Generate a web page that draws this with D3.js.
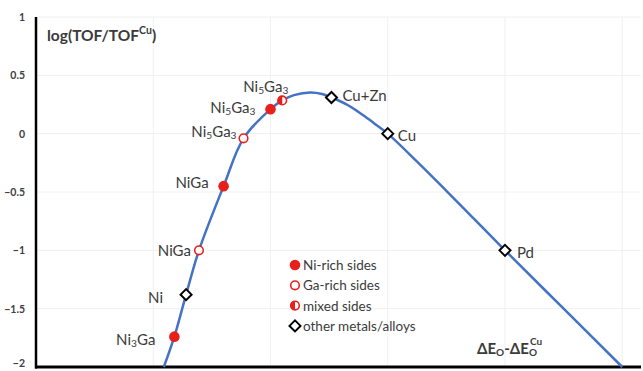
<!DOCTYPE html>
<html><head><meta charset="utf-8">
<script src="https://cdn.jsdelivr.net/npm/d3@7/dist/d3.min.js"></script>
<style>body{margin:0;background:#fff}svg{display:block}text{font-family:Lato,"Open Sans",sans-serif}</style>
</head><body><svg id="c" width="643" height="371"></svg>
<script>
// ---- data ----
const curveX = [1.09, 1.18, 1.28, 1.39, 1.60, 1.77, 2.00, 2.10, 2.20, 2.34, 2.44, 2.52, 2.64, 2.76, 2.88, 3.00, 3.25, 3.50, 4.00, 4.50, 5.00];
const curveY = [-2.0, -1.74, -1.38, -1.00, -0.45, -0.04, 0.21, 0.285, 0.33, 0.353, 0.34, 0.31, 0.255, 0.18, 0.092, 0.0, -0.24, -0.49, -1.0, -1.5, -2.0];

const pointNames = ["Ni3Ga", "Ni", "NiGa", "NiGa", "Ni5Ga3", "Ni5Ga3", "Ni5Ga3", "Cu+Zn", "Cu", "Pd"];
const pointX = [1.18, 1.28, 1.39, 1.60, 1.77, 2.00, 2.10, 2.52, 3.00, 4.00];
const pointY = [-1.74, -1.38, -1.00, -0.45, -0.04, 0.21, 0.285, 0.31, 0.0, -1.0];
const pointType = ["ni", "other", "ga", "ni", "ga", "ni", "mixed", "other", "other", "other"];

const legendTypes = ["ni", "ga", "mixed", "other"];
const legendLabels = ["Ni-rich sides", "Ga-rich sides", "mixed sides", "other metals/alloys"];

const yTicks = [1, 0.5, 0, -0.5, -1, -1.5, -2];
const xGrid = [1, 2, 3, 4, 5];

// ---- drawing ----
const svg = d3.select("#c");
const x = d3.scaleLinear().domain([0, 5.16]).range([36, 641]);
const y = d3.scaleLinear().domain([-2, 1]).range([367, 17]);
const RED = "#e8201c", BLUE = "#4472c4", TXT = "#3b3b3b";

// gridlines
svg.append("g").selectAll("line").data(yTicks.filter(d => d > -2)).join("line")
  .attr("x1", x(0)).attr("x2", 641).attr("y1", d => y(d)).attr("y2", d => y(d))
  .attr("stroke", "#f0f0f0").attr("stroke-width", 1);
svg.append("g").selectAll("line").data(xGrid).join("line")
  .attr("x1", d => x(d)).attr("x2", d => x(d)).attr("y1", y(1)).attr("y2", y(-2))
  .attr("stroke", "#f0f0f0").attr("stroke-width", 1);

// y axis labels
const yAxis = d3.axisLeft(y).tickValues(yTicks).tickSize(0).tickPadding(11).tickFormat(d3.format("~g"));
const ga = svg.append("g").attr("transform", `translate(${x(0)},0)`).call(yAxis);
ga.select(".domain").remove();
ga.selectAll("text").attr("font-size", 10.5).attr("fill", "#404040").attr("font-weight", "bold")
  .style("font-family", "Lato, sans-serif");
// keep the bottom label inside the picture
ga.selectAll(".tick").filter(d => d === -2).select("text").attr("dy", "-0.05em");

// axes lines
svg.append("line").attr("x1", x(0)).attr("x2", x(0)).attr("y1", y(1)).attr("y2", y(-2) + 1.5)
  .attr("stroke", "#000").attr("stroke-width", 2.5);
svg.append("line").attr("x1", x(0) - 1).attr("x2", 641).attr("y1", y(-2)).attr("y2", y(-2))
  .attr("stroke", "#000").attr("stroke-width", 3);

// curve
const pts = curveX.map((d, i) => [d, curveY[i]]);
svg.append("path").datum(pts)
  .attr("d", d3.line().x(d => x(d[0])).y(d => y(d[1])).curve(d3.curveCatmullRom.alpha(0.5)))
  .attr("fill", "none").attr("stroke", BLUE).attr("stroke-width", 2.5);

// marker helper
function marker(g, type) {
  if (type === "ni") {
    g.append("circle").attr("r", 5.3).attr("fill", RED);
  } else if (type === "ga") {
    g.append("circle").attr("r", 4.3).attr("fill", "#fff").attr("stroke", RED).attr("stroke-width", 1.6);
  } else if (type === "mixed") {
    g.append("circle").attr("r", 4.3).attr("fill", "#fff").attr("stroke", RED).attr("stroke-width", 1.6);
    g.append("path").attr("d", d3.arc()({innerRadius: 0, outerRadius: 4.6, startAngle: Math.PI, endAngle: 2 * Math.PI}))
      .attr("fill", RED);
  } else {
    g.append("path").attr("d", "M0,-5.5L5.5,0L0,5.5L-5.5,0Z").attr("fill", "#fff")
      .attr("stroke", "#000").attr("stroke-width", 2);
  }
}

// label text helper supporting digits as subscripts
function richLabel(t, name, size) {
  const parts = name.match(/[A-Za-z+]+|\d+/g);
  let sub = false;
  parts.forEach(p => {
    const isNum = /^\d+$/.test(p);
    const ts = t.append("tspan").text(p);
    if (isNum && !sub) { ts.attr("dy", 4).attr("font-size", size * 0.68); sub = true; }
    else if (!isNum && sub) { ts.attr("dy", -4); sub = false; }
  });
}

// label offsets (px) per point
const labDx = [-19, -23, -8, -15, -7, -15, -39, 11, 10, 12];
const labDy = [2, 2, 0, -4, -7, -2, -14, -3, 1, 2];
const labAnchor = ["end", "end", "end", "end", "end", "end", "start", "start", "start", "start"];

pointX.forEach((d, i) => {
  const px = x(d), py = y(pointY[i]);
  const g = svg.append("g").attr("transform", `translate(${px},${py})`);
  marker(g, pointType[i]);
  const t = svg.append("text").attr("x", px + labDx[i]).attr("y", py + labDy[i])
    .attr("text-anchor", labAnchor[i]).attr("dominant-baseline", "central")
    .attr("font-size", 15).attr("fill", TXT);
  richLabel(t, pointNames[i], 15);
});

// legend
legendTypes.forEach((tp, i) => {
  const ly = 265 + i * 20.3;
  const g = svg.append("g").attr("transform", `translate(295,${ly})`);
  marker(g, tp);
  svg.append("text").attr("x", 303).attr("y", ly).attr("dominant-baseline", "central")
    .attr("font-size", 13.5).attr("fill", TXT).text(legendLabels[i]);
});

// axis titles
const yt = svg.append("text").attr("x", 47).attr("y", 35).attr("dominant-baseline", "central")
  .attr("font-size", 15.5).attr("font-weight", "bold").attr("fill", TXT);
yt.append("tspan").text("log(TOF/TOF");
yt.append("tspan").text("Cu").attr("font-size", 10.5).attr("dy", -5);
yt.append("tspan").text(")").attr("dy", 5);

const xt = svg.append("text").attr("x", 477).attr("y", 348).attr("dominant-baseline", "central")
  .attr("font-size", 15).attr("font-weight", "bold").attr("fill", TXT);
xt.append("tspan").text("ΔE");
xt.append("tspan").text("O").attr("font-size", 10).attr("dy", 4);
xt.append("tspan").text("-ΔE").attr("dy", -4);
xt.append("tspan").text("O").attr("font-size", 10).attr("dy", 4);
xt.append("tspan").text("Cu").attr("font-size", 10).attr("dx", -7).attr("dy", -11);
</script></body></html>
